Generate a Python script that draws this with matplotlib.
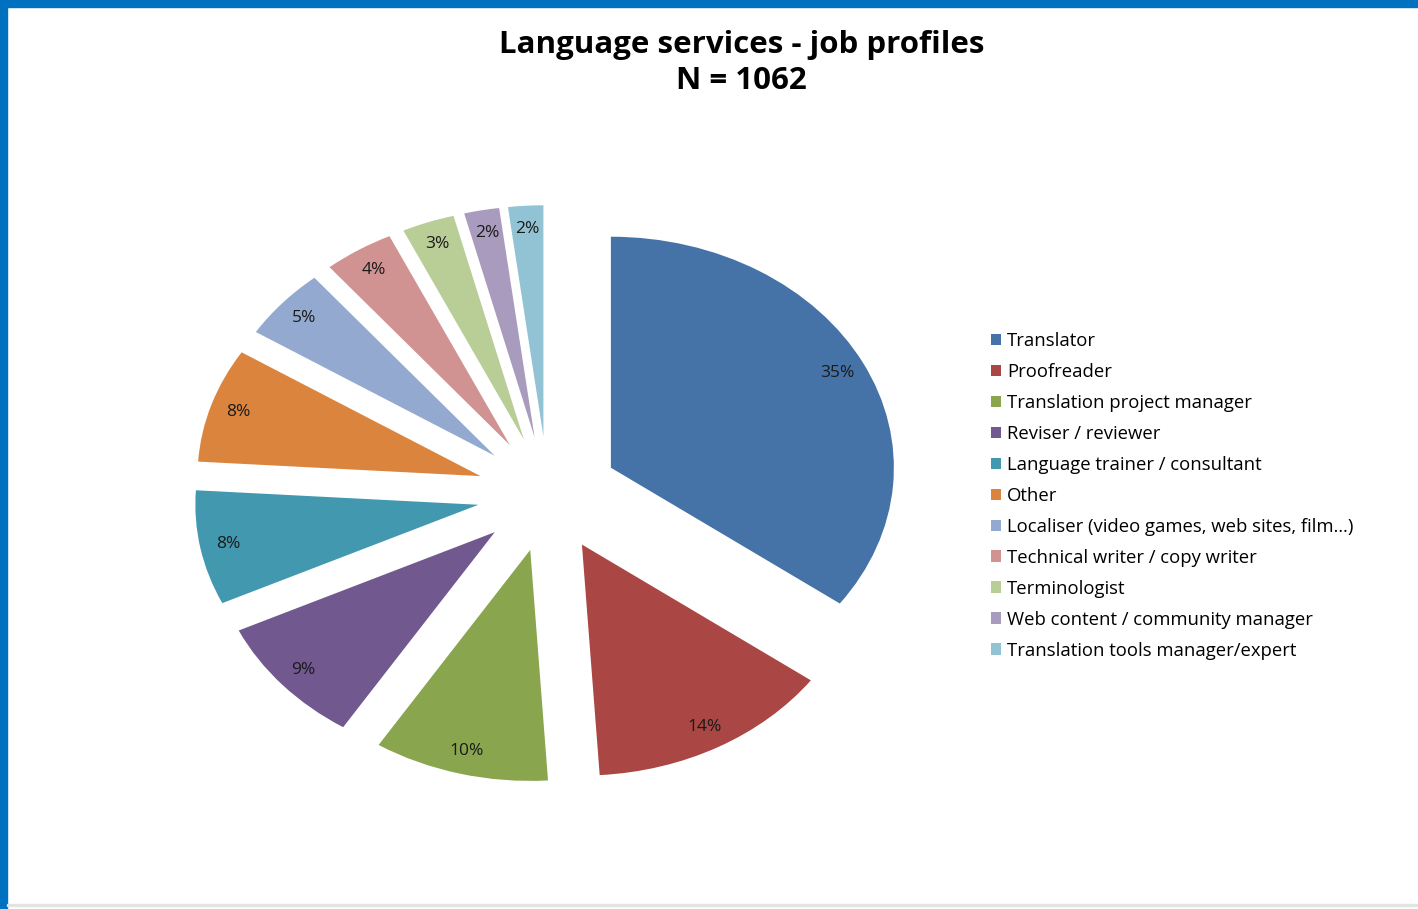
import matplotlib.pyplot as plt
from matplotlib.patches import Rectangle

plt.rcParams['font.family'] = ['Open Sans', 'DejaVu Sans']

# job profile shares (%)
profiles = ['Translator', 'Proofreader', 'Translation project manager',
            'Reviser / reviewer', 'Language trainer / consultant', 'Other',
            'Localiser (video games, web sites, film\u2026)',
            'Technical writer / copy writer', 'Terminologist',
            'Web content / community manager',
            'Translation tools manager/expert']
shares = [35, 14, 10, 9, 8, 8, 5, 4, 3, 2, 2]
colors = ['#4572A7', '#AA4643', '#89A54E', '#71588F', '#4198AF', '#DB843D',
          '#93A9CF', '#D19392', '#B9CD96', '#A99BBD', '#92C3D4']

fig = plt.figure(figsize=(14.18, 9.09), dpi=100)

# axes stretched so the pie comes out as a wide ellipse
ax = fig.add_axes([0.087, 0.0754, 0.5987, 0.7624])
wedges, texts, autotexts = ax.pie(
    shares, colors=colors, startangle=90, counterclock=False,
    explode=[0.25] * len(shares), autopct='%d%%', pctdistance=0.9,
    wedgeprops=dict(linewidth=0), textprops=dict(fontsize=12.5, color='#1a1a1a'))
ax.set_aspect('auto')
ax.set_xlim(-1.5, 1.5)
ax.set_ylim(-1.5, 1.5)
ax.axis('off')

fig.text(0.523, 0.951, 'Language services - job profiles', ha='center', va='center',
         fontsize=22.5, fontweight='bold')
fig.text(0.523, 0.911, 'N = 1062', ha='center', va='center',
         fontsize=22.5, fontweight='bold')

fig.legend(wedges, profiles, loc='upper left', bbox_to_anchor=(0.699, 0.635),
           frameon=False, fontsize=13.35, handlelength=0.55, handleheight=0.55,
           handletextpad=0.32, labelspacing=0.70, borderpad=0, borderaxespad=0)

# frame decoration: blue bands on top and left, thin grey rule at the bottom
fig.patches.append(Rectangle((0, 1 - 7 / 909), 1, 7 / 909, transform=fig.transFigure,
                             color='#0070C0', zorder=10))
fig.patches.append(Rectangle((0, 0), 7 / 1418, 1, transform=fig.transFigure,
                             color='#0070C0', zorder=10))
fig.patches.append(Rectangle((7 / 1418, 3 / 909), 1, 2 / 909, transform=fig.transFigure,
                             color='#E3E3E3', zorder=10))

fig.savefig('out.png', dpi=100)
